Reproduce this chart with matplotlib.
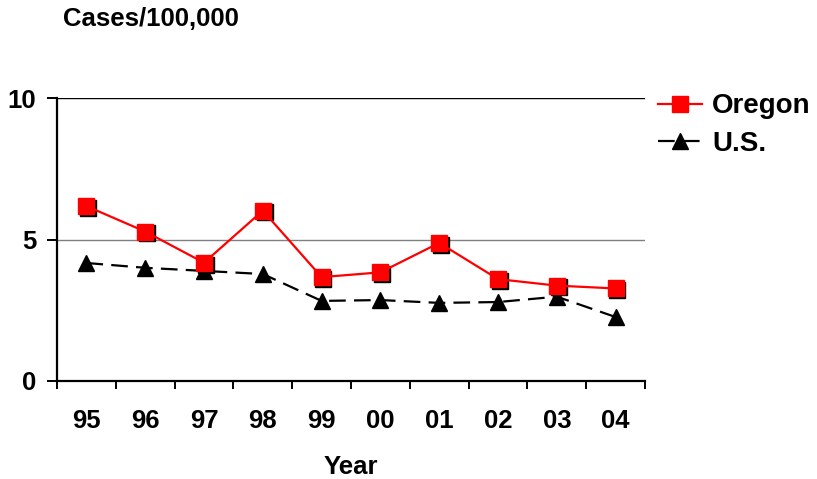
import matplotlib
matplotlib.use("Agg")
import matplotlib.pyplot as plt
from matplotlib.transforms import ScaledTranslation

years = ["95", "96", "97", "98", "99", "00", "01", "02", "03", "04"]
oregon = [6.18, 5.28, 4.18, 6.02, 3.67, 3.84, 4.88, 3.60, 3.37, 3.27]
us = [4.17, 4.00, 3.89, 3.78, 2.83, 2.86, 2.76, 2.79, 2.98, 2.26]

plt.rcParams['font.family'] = ['Liberation Sans', 'DejaVu Sans']
plt.rcParams['font.weight'] = 'bold'

fig = plt.figure(figsize=(8.17, 4.79), dpi=100)
ax = fig.add_axes([0.0698, 0.2046, 0.7197, 0.5908])

x = list(range(len(years)))

ax.plot(x, us, color='black', lw=1.6, dashes=(7.5, 3.7), marker='^', markersize=12,
        markerfacecolor='black', markeredgecolor='black', label='U.S.', zorder=3)
# little dark shadow behind the Oregon squares
shift = ax.transData + ScaledTranslation(0.018, -0.018, fig.dpi_scale_trans)
ax.plot(x, oregon, linestyle='none', marker='s', markersize=12, color='black',
        transform=shift, zorder=4)
ax.plot(x, oregon, color='#ff0000', lw=1.6, marker='s', markersize=12,
        markerfacecolor='#ff0000', markeredgecolor='#ff0000', label='Oregon', zorder=5)

ax.set_xlim(-0.5, 9.5)
ax.set_ylim(0, 10)
ax.set_yticks([0, 5, 10])
ax.set_xticks(x)
ax.set_xticklabels(years)
ax.set_xticks([i + 0.5 for i in range(-1, 10)], minor=True)
ax.tick_params(axis='x', which='major', length=0, labelsize=18.5, pad=20)
ax.tick_params(axis='x', which='minor', length=6, width=1.4, direction='out')
ax.tick_params(axis='y', length=7, width=1.4, direction='out', labelsize=18.5, pad=8)

ax.axhline(5, color='#808080', lw=1.0, zorder=1)
ax.axhline(10, color='black', lw=1.0, zorder=1)

ax.spines['top'].set_visible(False)
ax.spines['right'].set_visible(False)
ax.spines['left'].set_linewidth(1.6)
ax.spines['bottom'].set_linewidth(1.6)

ax.set_xlabel("Year", fontsize=18.5, fontweight='bold', labelpad=16)
fig.text(0.077, 0.96, "Cases/100,000", fontsize=18.5, fontweight='bold', va='center', ha='left')

h, l = ax.get_legend_handles_labels()
fig.legend(h[::-1], l[::-1], loc='upper left', bbox_to_anchor=(0.805, 0.805), frameon=False,
           fontsize=20, handlelength=1.6, handletextpad=0.36, labelspacing=0.4,
           borderpad=0, borderaxespad=0)

fig.savefig("out.png", dpi=100)
